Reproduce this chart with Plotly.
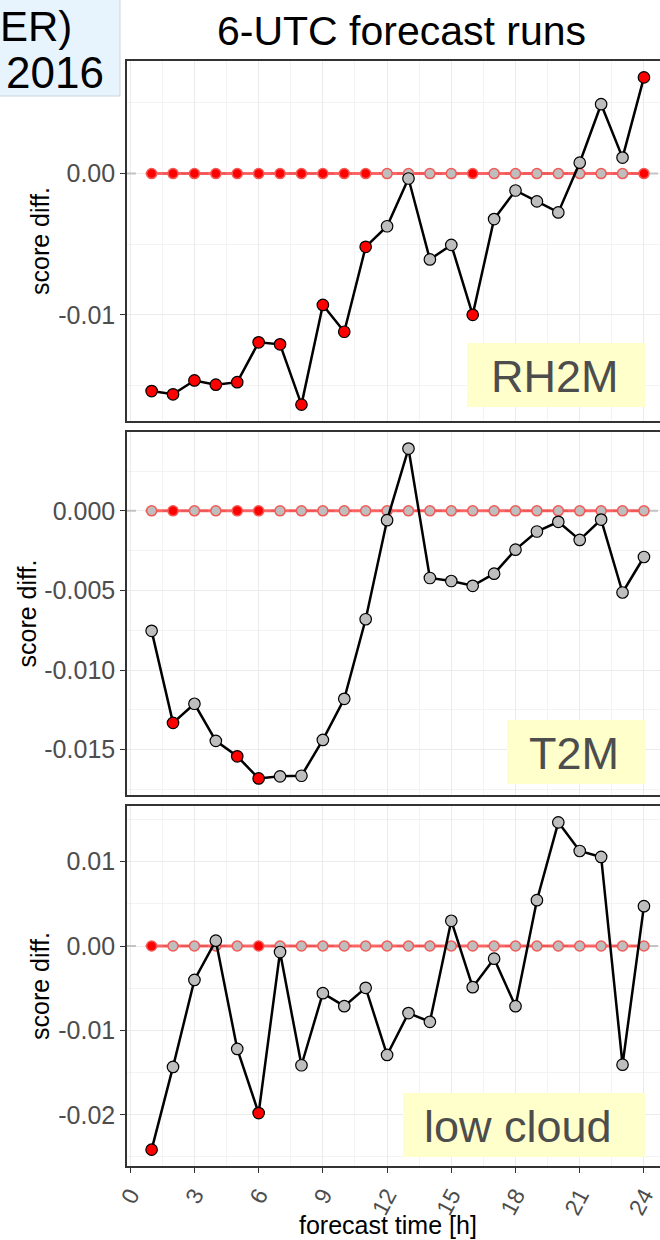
import plotly.graph_objects as go

# ---------------- data ----------------
hours = list(range(1, 25))

rh2m = [-0.01540, -0.01563, -0.01465, -0.01495, -0.01477, -0.01195, -0.01209, -0.01636,
        -0.00930, -0.01120, -0.00519, -0.00373, -0.00035, -0.00608, -0.00505, -0.01000,
        -0.00322, -0.00120, -0.00197, -0.00275, 0.00077, 0.00491, 0.00113, 0.00681]
rh2m_sig = [1, 1, 1, 1, 1, 1, 1, 1, 1, 1, 1, 0, 0, 0, 0, 1, 0, 0, 0, 0, 0, 0, 0, 1]

t2m = [-0.00754, -0.01332, -0.01212, -0.01445, -0.01542, -0.01681, -0.01668, -0.01664,
       -0.01439, -0.01181, -0.00681, -0.00059, 0.00391, -0.00422, -0.00441, -0.00471,
       -0.00395, -0.00244, -0.00130, -0.00069, -0.00183, -0.00055, -0.00513, -0.00290]
t2m_sig = [0, 1, 0, 0, 1, 1, 0, 0, 0, 0, 0, 0, 0, 0, 0, 0, 0, 0, 0, 0, 0, 0, 0, 0]

lowcloud = [-0.02413, -0.01433, -0.00402, 0.00063, -0.01220, -0.01980, -0.00071, -0.01413,
            -0.00559, -0.00713, -0.00496, -0.01291, -0.00795, -0.00898, 0.00299, -0.00488,
            -0.00150, -0.00713, 0.00543, 0.01465, 0.01126, 0.01055, -0.01406, 0.00472]
lowcloud_sig = [1, 0, 0, 0, 0, 1, 0, 0, 0, 0, 0, 0, 0, 0, 0, 0, 0, 0, 0, 0, 0, 0, 0, 0]

panel_names = ["RH2M", "T2M", "low cloud"]
y_tickvals = [[-0.01, 0.0], [-0.015, -0.010, -0.005, 0.0], [-0.02, -0.01, 0.0, 0.01]]
y_ticktext = [["-0.01", "0.00"], ["-0.015", "-0.010", "-0.005", "0.000"],
              ["-0.02", "-0.01", "0.00", "0.01"]]
title_text = "6-UTC forecast runs"
x_title = "forecast time [h]"
y_title = "score diff."
corner_lines = ["ER)", "2016"]

# ---------------- layout helpers (pixel -> paper) ----------------
W, H = 660, 1240
def px(x):
    return x / W
def py(y):
    return 1 - y / H

FONT = "Liberation Sans, Arial, sans-serif"
RED = "#ff0000"
GREY = "#bebebe"
BORDER = "#333333"

panels = [
    dict(vals=rh2m, sig=rh2m_sig, top=61, bot=421, yr=[-0.01752, 0.00797], minor=0.005,
         box=(467, 343, 645, 407), txt=(555, 376), ytx=40),
    dict(vals=t2m, sig=t2m_sig, top=432, bot=795, yr=[-0.01785, 0.00495], minor=0.0025,
         box=(507, 720, 645, 784), txt=(574, 753), ytx=26),
    dict(vals=lowcloud, sig=lowcloud_sig, top=806, bot=1166, yr=[-0.02607, 0.01659], minor=0.005,
         box=(403, 1093, 645, 1157), txt=(518, 1126), ytx=40),
]

fig = go.Figure()
shapes = []
annotations = []
x_range = [-0.15, 24.75]

for i, p in enumerate(panels):
    n = "" if i == 0 else str(i + 1)
    xa, ya = "x" + n, "y" + n
    sig = p["sig"]
    # grey dashed zero reference line
    fig.add_trace(go.Scatter(x=x_range, y=[0, 0], mode="lines", xaxis=xa, yaxis=ya,
                             line=dict(color="#c4c4c4", width=2, dash="dash"),
                             hoverinfo="skip"))
    # red zero line with markers
    fig.add_trace(go.Scatter(x=hours, y=[0] * len(hours), mode="lines", xaxis=xa, yaxis=ya,
                             line=dict(color="rgba(255,40,40,0.7)", width=3),
                             hoverinfo="skip"))
    fig.add_trace(go.Scatter(x=hours, y=[0] * len(hours), mode="markers", xaxis=xa, yaxis=ya,
                             marker=dict(size=10, color=[RED if s else GREY for s in sig],
                                         line=dict(color="#f25a55", width=1.5)),
                             hoverinfo="skip"))
    # score difference line
    fig.add_trace(go.Scatter(x=hours, y=p["vals"], mode="lines+markers", xaxis=xa, yaxis=ya,
                             line=dict(color="black", width=2.5),
                             marker=dict(size=11.5, color=[RED if s else GREY for s in sig],
                                         line=dict(color="black", width=1.2))))

    last = (i == 2)
    fig.update_layout(**{
        ("xaxis" + n): dict(
            domain=[px(127), 1], range=x_range, anchor=ya, automargin=False,
            tickmode="linear", tick0=0, dtick=3,
            showgrid=True, gridcolor="#ebebeb", gridwidth=1.2,
            minor=dict(tickmode="linear", tick0=0, dtick=1.5, showgrid=True,
                       gridcolor="#f3f3f3", gridwidth=0.8),
            showline=True, linecolor=BORDER, linewidth=1.6, mirror=True,
            zeroline=False,
            showticklabels=last,
            ticks="outside" if last else "", ticklen=5, tickcolor=BORDER, tickwidth=1.3,
            tickangle=-62,
            tickfont=dict(family=FONT, size=23, color="#4d4d4d"),
        ),
        ("yaxis" + n): dict(
            domain=[py(p["bot"]), py(p["top"])], range=p["yr"], anchor=xa, automargin=False,
            tickmode="array", tickvals=y_tickvals[i], ticktext=y_ticktext[i],
            showgrid=True, gridcolor="#ebebeb", gridwidth=1.2,
            minor=dict(tickmode="linear", tick0=0, dtick=p["minor"], showgrid=True,
                       gridcolor="#f3f3f3", gridwidth=0.8),
            showline=True, linecolor=BORDER, linewidth=1.6, mirror=False,
            zeroline=False,
            ticks="outside", ticklen=5, tickcolor=BORDER, tickwidth=1.3,
            tickfont=dict(family=FONT, size=25, color="#4d4d4d"),
        ),
    })

    # label box
    x0, y0, x1, y1 = p["box"]
    shapes.append(dict(type="rect", xref="paper", yref="paper",
                       x0=px(x0), x1=px(x1), y0=py(y1), y1=py(y0),
                       fillcolor="#ffffcc", line=dict(width=0), layer="above"))
    annotations.append(dict(text=panel_names[i], xref="paper", yref="paper",
                            x=px(p["txt"][0]), y=py(p["txt"][1]),
                            xanchor="center", yanchor="middle", showarrow=False,
                            font=dict(family=FONT, size=45, color="#4d4d4d")))
    # y axis title
    annotations.append(dict(text=y_title, xref="paper", yref="paper",
                            x=px(p["ytx"]), y=py((p["top"] + p["bot"]) / 2),
                            xanchor="center", yanchor="middle", textangle=-90,
                            showarrow=False,
                            font=dict(family=FONT, size=25, color="black")))

# corner box (cut off at the top-left)
shapes.append(dict(type="rect", xref="paper", yref="paper",
                   x0=-0.05, x1=px(120), y0=py(96), y1=1.05,
                   fillcolor="#e8f4fd", line=dict(color="#c9d6de", width=1), layer="above"))
annotations.append(dict(text=corner_lines[0], xref="paper", yref="paper",
                        x=px(-2), y=py(27), xanchor="left", yanchor="middle",
                        showarrow=False, font=dict(family=FONT, size=42, color="black")))
annotations.append(dict(text=corner_lines[1], xref="paper", yref="paper",
                        x=px(106), y=py(73), xanchor="right", yanchor="middle",
                        showarrow=False, font=dict(family=FONT, size=44, color="black")))

# title and x-axis title
annotations.append(dict(text=title_text, xref="paper", yref="paper",
                        x=px(401), y=py(31), xanchor="center", yanchor="middle",
                        showarrow=False, font=dict(family=FONT, size=41, color="black")))
annotations.append(dict(text=x_title, xref="paper", yref="paper",
                        x=px(388), y=py(1225), xanchor="center", yanchor="middle",
                        showarrow=False, font=dict(family=FONT, size=25, color="black")))

fig.update_layout(width=W, height=H, margin=dict(l=0, r=0, t=0, b=0, autoexpand=False),
                  plot_bgcolor="white", paper_bgcolor="white", showlegend=False,
                  shapes=shapes, annotations=annotations)

fig.write_html("out.html")
